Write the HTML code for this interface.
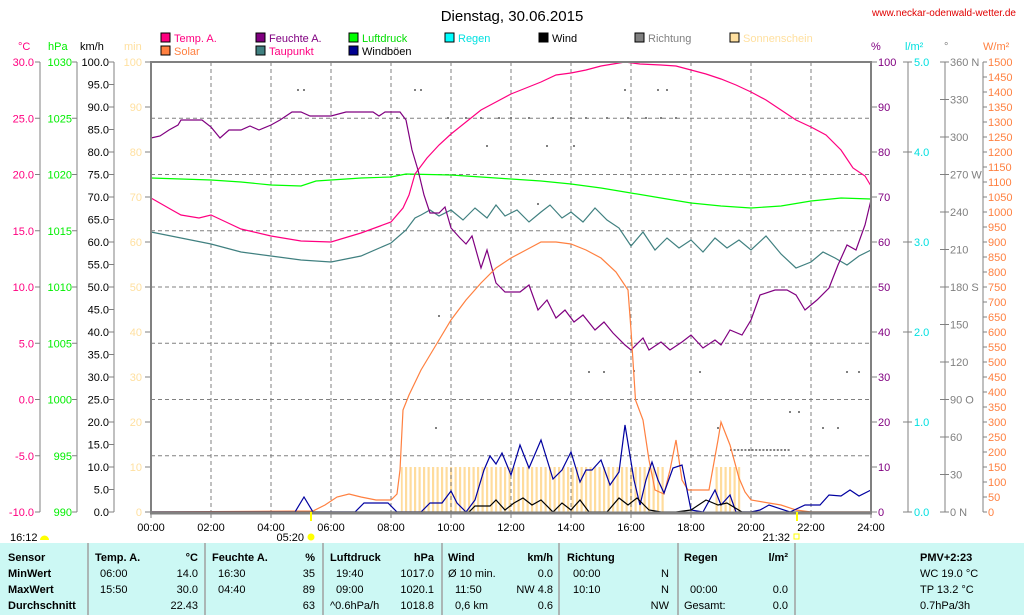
<!DOCTYPE html>
<html><head><meta charset="utf-8">
<style>
html,body{margin:0;padding:0;background:#fff;}
body{width:1024px;height:615px;overflow:hidden;position:relative;font-family:"Liberation Sans",sans-serif;}
svg{position:absolute;left:0;top:0;}
text{font-family:"Liberation Sans",sans-serif;font-size:11px;}
</style></head><body>
<svg id="s" width="1024" height="615" xmlns="http://www.w3.org/2000/svg">
<defs>
<pattern id="sun" x="0" y="0" width="4.5" height="10" patternUnits="userSpaceOnUse">
<rect x="0" y="0" width="2.2" height="10" fill="#ffdc9c"/></pattern>
</defs>
<rect x="0" y="0" width="1024" height="615" fill="#fff"/>
<text x="512" y="21" text-anchor="middle" style="font-size:15px">Dienstag, 30.06.2015</text>
<text x="1016" y="16" text-anchor="end" fill="#e00000" style="font-size:10px">www.neckar-odenwald-wetter.de</text>
<g id="g"></g>
<!-- table -->
<rect x="0" y="543" width="1024" height="72" fill="#ccf8f4"/>
<g stroke="#a0a0a0" stroke-width="1.5">
<line x1="88" y1="543" x2="88" y2="615"/><line x1="205" y1="543" x2="205" y2="615"/>
<line x1="323" y1="543" x2="323" y2="615"/><line x1="442" y1="543" x2="442" y2="615"/>
<line x1="559" y1="543" x2="559" y2="615"/><line x1="678" y1="543" x2="678" y2="615"/>
<line x1="795" y1="543" x2="795" y2="615"/></g>
<g style="font-weight:bold">
<text x="8" y="561">Sensor</text><text x="8" y="577">MinWert</text><text x="8" y="593">MaxWert</text><text x="8" y="609">Durchschnitt</text>
<text x="95" y="561">Temp. A.</text><text x="198" y="561" text-anchor="end">°C</text>
<text x="212" y="561">Feuchte A.</text><text x="315" y="561" text-anchor="end">%</text>
<text x="330" y="561">Luftdruck</text><text x="434" y="561" text-anchor="end">hPa</text>
<text x="448" y="561">Wind</text><text x="553" y="561" text-anchor="end">km/h</text>
<text x="567" y="561">Richtung</text>
<text x="684" y="561">Regen</text><text x="788" y="561" text-anchor="end">l/m²</text>
<text x="920" y="561">PMV+2:23</text>
</g>
<g>
<text x="100" y="577">06:00</text><text x="198" y="577" text-anchor="end">14.0</text>
<text x="100" y="593">15:50</text><text x="198" y="593" text-anchor="end">30.0</text>
<text x="198" y="609" text-anchor="end">22.43</text>
<text x="218" y="577">16:30</text><text x="315" y="577" text-anchor="end">35</text>
<text x="218" y="593">04:40</text><text x="315" y="593" text-anchor="end">89</text>
<text x="315" y="609" text-anchor="end">63</text>
<text x="336" y="577">19:40</text><text x="434" y="577" text-anchor="end">1017.0</text>
<text x="336" y="593">09:00</text><text x="434" y="593" text-anchor="end">1020.1</text>
<text x="330" y="609">^0.6hPa/h</text><text x="434" y="609" text-anchor="end">1018.8</text>
<text x="448" y="577">Ø 10 min.</text><text x="553" y="577" text-anchor="end">0.0</text>
<text x="455" y="593">11:50</text><text x="553" y="593" text-anchor="end">NW 4.8</text>
<text x="455" y="609">0,6 km</text><text x="553" y="609" text-anchor="end">0.6</text>
<text x="573" y="577">00:00</text><text x="669" y="577" text-anchor="end">N</text>
<text x="573" y="593">10:10</text><text x="669" y="593" text-anchor="end">N</text>
<text x="669" y="609" text-anchor="end">NW</text>
<text x="690" y="593">00:00</text><text x="788" y="593" text-anchor="end">0.0</text>
<text x="684" y="609">Gesamt:</text><text x="788" y="609" text-anchor="end">0.0</text>
<text x="920" y="577">WC 19.0 °C</text><text x="920" y="593">TP 13.2 °C</text><text x="920" y="609">0.7hPa/3h</text>
</g>
</svg>
<script>
var g=document.getElementById('g'),NS='http://www.w3.org/2000/svg',h='';
function X(t){return 151+30*t;}
function L(x1,y1,x2,y2,c,w,d){h+='<line x1="'+x1+'" y1="'+y1+'" x2="'+x2+'" y2="'+y2+'" stroke="'+c+'" stroke-width="'+(w||1)+'"'+(d?' stroke-dasharray="'+d+'"':'')+'/>';}
function T(x,y,s,c,a,fs){h+='<text x="'+x+'" y="'+y+'" fill="'+(c||'#000')+'"'+(a?' text-anchor="'+a+'"':'')+(fs?' style="font-size:'+fs+'px"':'')+'>'+s+'</text>';}
function P(pts,c,w){h+='<polyline fill="none" stroke="'+c+'" stroke-width="'+(w||1.2)+'" points="'+pts.map(function(p){return X(p[0])+','+p[1];}).join(' ')+'"/>';}
// sunshine bars
h+='<rect x="'+X(8.33)+'" y="467" width="'+(X(17.1)-X(8.33))+'" height="45" fill="url(#sun)"/>';
h+='<rect x="'+X(18.8)+'" y="467" width="'+(X(19.7)-X(18.8))+'" height="45" fill="url(#sun)"/>';
// grid
for(var i=1;i<8;i++){var y=62+i*56.25;L(151,y,871,y,'#808080',1,'4,3');}
for(var i=1;i<12;i++){L(X(2*i),62,X(2*i),512,'#808080',1,'4,3');}
// legend
var lg=[[162,'#ff0080','Temp. A.','#ff0080'],[257,'#800080','Feuchte A.','#800080'],[350,'#00ff00','Luftdruck','#00dd00'],[446,'#00ffff','Regen','#00e0e0'],[540,'#000','Wind','#000'],[636,'#808080','Richtung','#808080'],[731,'#ffe0a0','Sonnenschein','#ffe0a0']];
var lg2=[[162,'#ff8040','Solar','#ff8040'],[257,'#408080','Taupunkt','#ff0080'],[350,'#000090','Windböen','#000']];
lg.forEach(function(a){h+='<rect x="'+(a[0]-1)+'" y="33" width="9" height="9" fill="'+a[1]+'" stroke="#000"/>';T(a[0]+12,42,a[2],a[3]);});
lg2.forEach(function(a){h+='<rect x="'+(a[0]-1)+'" y="46" width="9" height="9" fill="'+a[1]+'" stroke="#000"/>';T(a[0]+12,55,a[2],a[3]);});
// axis titles
T(18,50,'°C','#ff0080');T(48,50,'hPa','#00ee00');T(80,50,'km/h','#000');T(124,50,'min','#ffe0a0');
T(871,50,'%','#800080');T(905,50,'l/m²','#00e0e0');T(944,50,'°','#808080');T(983,50,'W/m²','#ff8040');
// left axes
var ax='#808080';
L(40,62,40,512,ax);L(77,62,77,512,ax);L(114,62,114,512,ax);
for(var i=0;i<=8;i++){var y=62+i*56.25;
 L(35,y,40,y,ax);T(34,y+4,(30-5*i).toFixed(1),'#ff0080','end');
 L(72,y,77,y,ax);T(72,y+4,1030-5*i,'#00ee00','end');}
for(var i=0;i<=20;i++){var y=62+i*22.5;L(109,y,114,y,ax);T(109,y+4,(100-5*i).toFixed(1),'#000','end');}
for(var i=0;i<=10;i++){var y=62+i*45;L(145,y,151,y,ax);T(142,y+4,100-10*i,'#ffe0a0','end');}
// right axes
L(908,62,908,512,ax);L(945,62,945,512,ax);L(983,62,983,512,ax);
for(var i=0;i<=10;i++){var y=62+i*45;L(871,y,877,y,ax);T(878,y+4,100-10*i,'#800080');}
for(var i=0;i<=5;i++){var y=62+i*90;L(903,y,912,y,ax);T(914,y+4,(5-i).toFixed(1),'#00e0e0');}
var dl=['360 N','330','300','270 W','240','210','180 S','150','120','90 O','60','30','0  N'];
for(var i=0;i<=12;i++){var y=62+i*37.5;L(940,y,949,y,ax);T(950,y+4,dl[i],'#808080');}
for(var i=0;i<=30;i++){var y=62+i*15;L(983,y,987,y,ax);T(988,y+4,1500-50*i,'#ff8040');}
// direction dots
var dots=[[4.9,90],[5.1,90],[8.8,90],[9,90],[15.8,90],[16.9,90],[17.2,90],[9.9,118],[10.5,118],[11,118],[11.6,118],[12,118],[12.6,118],[13.4,118],[14,118],[14.5,118],[15.2,118],[15.9,118],[16.5,118],[17,118],[17.5,118],[8.2,118],[11.2,146],[13.2,146],[14.1,146],[12.9,204],[9.6,316],[14.6,372],[15.1,372],[18.3,372],[23.2,372],[23.6,372],[21.3,412],[21.6,412],[22.4,428],[22.9,428],[9.5,428],[18.9,428],[16.1,371]];
dots.forEach(function(d){h+='<rect x="'+(X(d[0])-1)+'" y="'+(d[1]-1)+'" width="2" height="2" fill="#808080"/>';});
for(var t=19.3;t<21.3;t+=0.12)h+='<rect x="'+X(t)+'" y="449" width="2" height="2" fill="#808080"/>';
// series
P([[0,178],[1,179],[2,180],[3,182],[4,185],[5,186],[5.5,181],[6,180],[7,178],[8,177],[8.5,174],[10,175],[11,177],[12,179],[13,181],[14,184],[15,188],[16,193],[17,198],[18,203],[19,206],[20,208],[21,206],[22,201],[23,198],[24,199]],'#00ff00');
P([[0,232],[1,238],[2,244],[2.5,248],[3,252],[4,256],[5,260],[6,262],[7,256],[8,243],[8.5,230],[8.8,218],[9,215],[9.3,210],[9.6,216],[10,210],[10.4,220],[10.8,208],[11.2,218],[11.5,205],[11.8,216],[12.2,210],[12.6,222],[13,212],[13.3,205],[13.7,218],[14,212],[14.4,222],[14.8,208],[15.2,220],[15.6,228],[16,246],[16.4,232],[16.8,250],[17.2,238],[17.6,248],[18,240],[18.4,252],[18.8,238],[19.2,248],[19.6,240],[20,250],[20.5,236],[21,254],[21.5,268],[22,262],[22.4,252],[22.8,258],[23.2,265],[23.6,256],[24,250]],'#408080');
P([[0,198],[0.7,210],[1,215],[1.6,218],[2,215],[2.5,222],[3,229],[4,236],[5,241],[6,242],[7,233],[8,222],[8.4,208],[8.6,195],[8.8,174],[9.2,158],[9.6,145],[10,134],[10.5,122],[11,110],[11.5,102],[12,94],[12.5,88],[13,82],[13.5,75],[14,73],[14.5,70],[15,66],[15.8,62],[16.3,64],[17,65],[17.5,66],[18,70],[18.5,74],[19,79],[19.5,85],[20,92],[20.5,100],[21,110],[21.5,120],[22,127],[22.5,135],[23,150],[23.4,168],[23.8,176],[24,186]],'#ff0080');
P([[0,138],[0.3,136],[0.6,130],[0.9,125],[1,120],[1.7,120],[2,127],[2.3,138],[2.6,130],[3,130],[3.3,126],[3.6,130],[4,125],[4.3,120],[4.7,112],[5,112],[5.3,116],[6,116],[6.5,112],[7.4,112],[7.6,116],[7.8,112],[8.3,112],[8.5,120],[8.7,150],[8.9,170],[9.1,195],[9.3,213],[9.6,213],[9.8,207],[10,228],[10.3,238],[10.5,244],[10.7,236],[11,268],[11.2,250],[11.5,283],[11.8,292],[12.3,292],[12.6,285],[12.9,310],[13.2,300],[13.5,318],[13.8,310],[14.1,322],[14.4,315],[14.8,330],[15.1,322],[15.4,333],[15.8,345],[16,350],[16.4,338],[16.6,350],[17,342],[17.3,350],[17.7,342],[18,335],[18.4,348],[18.8,340],[19,345],[19.3,330],[19.7,335],[20,320],[20.3,295],[20.8,290],[21.2,290],[21.5,295],[21.8,310],[22.2,300],[22.6,288],[22.9,265],[23.2,245],[23.5,250],[23.8,225],[24,200]],'#800080');
P([[0,512],[5.4,511],[5.8,505],[6.2,497],[6.6,494],[7,497],[7.5,500],[8,500],[8.2,494],[8.3,470],[8.4,410],[8.6,395],[9,370],[9.5,345],[10,320],[10.5,300],[11,283],[11.5,268],[12,258],[12.5,250],[13,242],[13.5,242],[14,244],[14.5,250],[15,258],[15.5,272],[15.9,290],[16,330],[16.15,400],[16.4,420],[16.6,460],[16.8,490],[17.1,494],[17.3,470],[17.5,440],[17.7,480],[17.9,490],[18.6,490],[18.9,440],[19,422],[19.3,445],[19.6,478],[19.8,492],[20,500],[21,505],[21.5,510],[22,512],[24,512]],'#ff8040');
P([[0,512],[4.8,512],[5.1,497],[5.4,512],[6.8,512],[7.1,503],[7.9,503],[8.2,512],[9,512],[9.3,503],[9.7,503],[10,491],[10.2,503],[10.5,512],[10.8,500],[11.1,470],[11.3,456],[11.5,464],[11.7,453],[12,475],[12.3,445],[12.6,468],[13,440],[13.4,479],[13.7,470],[14,452],[14.3,482],[14.5,470],[14.7,470],[15,460],[15.3,485],[15.6,472],[15.8,425],[16.1,480],[16.3,505],[16.5,480],[16.7,462],[16.9,480],[17.1,493],[17.4,468],[17.7,465],[18,510],[18.4,512],[18.8,490],[19,505],[19.3,495],[19.5,512],[20,512],[20.3,510],[20.6,505],[21.3,512],[21.8,505],[22.3,505],[22.6,495],[23,496],[23.3,490],[23.6,496],[24,490]],'#0000a0');
P([[0,512],[10.6,512],[10.8,506],[11.3,506],[11.5,500],[11.8,510],[12.1,503],[12.4,498],[12.7,505],[13,500],[13.4,512],[13.7,503],[14,510],[14.3,500],[14.6,512],[15.2,512],[15.6,498],[15.9,505],[16.2,498],[16.6,510],[17,512],[17.5,512],[18,510],[18.5,500],[18.9,505],[19.2,503],[19.7,512],[20.2,512],[24,512]],'#000');
// plot frame
L(151,62,871,62,'#808080',2);L(151,61,151,514,'#808080',2);L(871,61,871,514,'#808080',2);
L(150,513,872,513,'#808080',3);
for(var i=0;i<=12;i++){L(X(2*i),513,X(2*i),518,'#808080');var s=(2*i<10?'0':'')+(2*i)+':00';T(X(2*i),531,s,'#000','middle');}
// sunrise/sunset
L(X(5.333),512,X(5.333),521,'#ffff00',2);L(X(21.533),512,X(21.533),521,'#ffff00',2);
T(10,541,'16:12');h+='<path d="M40,540 a4,4 0 0 1 9,0 z" fill="#ffff00"/>';
T(304,541,'05:20','#000','end');h+='<circle cx="311" cy="537" r="3.5" fill="#ffff00"/>';
T(790,541,'21:32','#000','end');h+='<rect x="794" y="534" width="5" height="5" fill="none" stroke="#ffff00"/>';
g.innerHTML=h;
</script>
</body></html>
